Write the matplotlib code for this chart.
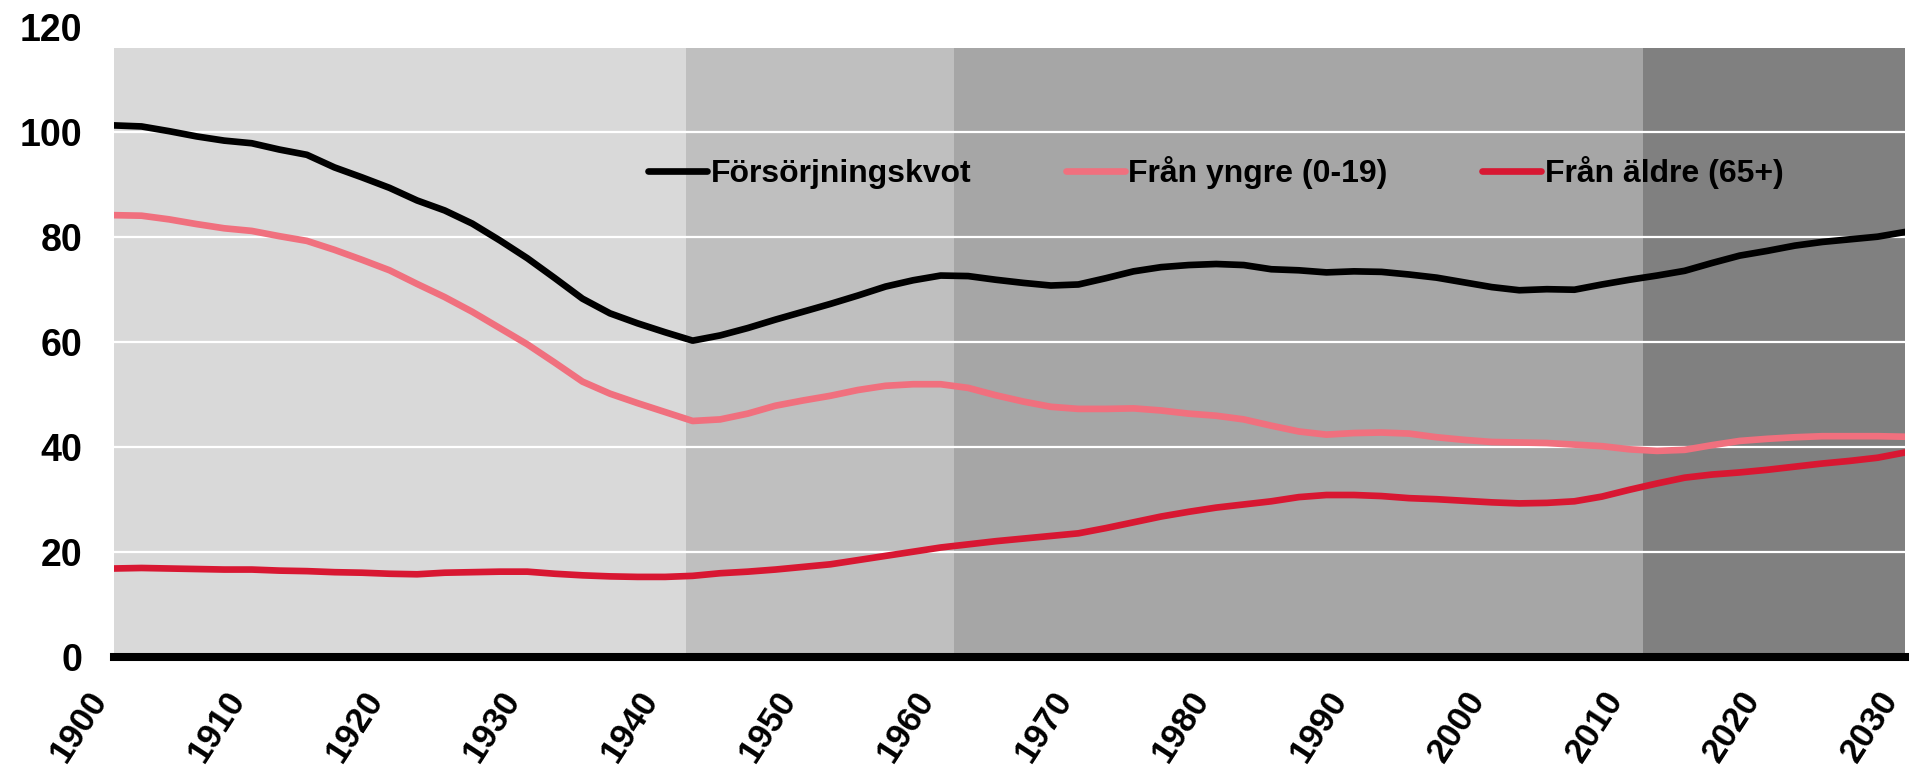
import matplotlib
matplotlib.use("Agg")
import matplotlib.pyplot as plt
import matplotlib.transforms as mtransforms

# ---------------- data ----------------
years = [1900, 1902, 1904, 1906, 1908, 1910, 1912, 1914, 1916, 1918,
         1920, 1922, 1924, 1926, 1928, 1930, 1932, 1934, 1936, 1938,
         1940, 1942, 1944, 1946, 1948, 1950, 1952, 1954, 1956, 1958,
         1960, 1962, 1964, 1966, 1968, 1970, 1972, 1974, 1976, 1978,
         1980, 1982, 1984, 1986, 1988, 1990, 1992, 1994, 1996, 1998,
         2000, 2002, 2004, 2006, 2008, 2010, 2012, 2014, 2016, 2018,
         2020, 2022, 2024, 2026, 2028, 2030]

forsorjningskvot = [101.2, 101.0, 100.1, 99.1, 98.3, 97.8, 96.6, 95.6, 93.2, 91.3,
                    89.3, 86.9, 85.0, 82.5, 79.3, 75.9, 72.1, 68.2, 65.4, 63.5,
                    61.8, 60.2, 61.2, 62.6, 64.2, 65.7, 67.2, 68.8, 70.5, 71.7,
                    72.6, 72.5, 71.8, 71.2, 70.7, 70.9, 72.1, 73.4, 74.2, 74.6,
                    74.8, 74.6, 73.8, 73.6, 73.2, 73.4, 73.3, 72.8, 72.2, 71.3,
                    70.4, 69.8, 70.0, 69.9, 70.9, 71.8, 72.6, 73.5, 75.0, 76.4,
                    77.3, 78.3, 79.0, 79.5, 80.0, 80.9]

fran_yngre = [84.1, 84.0, 83.3, 82.4, 81.6, 81.1, 80.1, 79.2, 77.5, 75.6,
              73.6, 71.0, 68.5, 65.7, 62.6, 59.5, 56.0, 52.4, 50.1, 48.3,
              46.6, 44.9, 45.2, 46.3, 47.8, 48.8, 49.7, 50.8, 51.6, 51.9,
              51.9, 51.2, 49.8, 48.6, 47.6, 47.2, 47.2, 47.3, 46.9, 46.3,
              45.9, 45.2, 44.0, 42.9, 42.3, 42.6, 42.7, 42.5, 41.8, 41.3,
              40.9, 40.8, 40.7, 40.4, 40.1, 39.5, 39.2, 39.4, 40.3, 41.1,
              41.5, 41.8, 42.0, 42.0, 42.0, 41.9]

fran_aldre = [16.8, 16.9, 16.8, 16.7, 16.6, 16.6, 16.4, 16.3, 16.1, 16.0,
              15.8, 15.7, 16.0, 16.1, 16.2, 16.2, 15.8, 15.5, 15.3, 15.2,
              15.2, 15.4, 15.9, 16.2, 16.6, 17.1, 17.6, 18.4, 19.2, 20.0,
              20.8, 21.4, 22.0, 22.5, 23.0, 23.5, 24.5, 25.6, 26.7, 27.6,
              28.4, 29.0, 29.6, 30.4, 30.8, 30.8, 30.6, 30.2, 30.0, 29.7,
              29.4, 29.2, 29.3, 29.6, 30.5, 31.8, 33.0, 34.1, 34.7, 35.1,
              35.6, 36.2, 36.8, 37.3, 37.9, 38.9]

series_labels = ["Försörjningskvot", "Från yngre (0-19)", "Från äldre (65+)"]
series_colors = ["#000000", "#F0707E", "#D81732"]

period_edges = [1900, 1941.5, 1961, 2011, 2030]
period_colors = ["#D9D9D9", "#BFBFBF", "#A6A6A6", "#808080"]
shade_top = 116

y_ticks = [0, 20, 40, 60, 80, 100, 120]
x_ticks = list(range(1900, 2031, 10))

# ---------------- style ----------------
plt.rcParams["font.family"] = ["Liberation Sans", "DejaVu Sans"]
plt.rcParams["font.weight"] = "bold"

fig = plt.figure(figsize=(19.16, 7.67), dpi=100)
ax = fig.add_axes([0.0595, 0.1438, 0.9348, 0.8214])

# background periods
for i, c in enumerate(period_colors):
    ax.fill_between([period_edges[i], period_edges[i + 1]], 0, shade_top,
                    color=c, lw=0, antialiased=False, zorder=0)

# gridlines
for v in y_ticks[1:-1]:
    ax.axhline(v, color="white", lw=1.6, zorder=1)

# lines
for vals, lab, col in zip([forsorjningskvot, fran_yngre, fran_aldre],
                          series_labels, series_colors):
    ax.plot(years, vals, color=col, lw=4.8, label=lab,
            solid_capstyle="round", solid_joinstyle="round", zorder=3)

ax.set_xlim(1900, 2030)
ax.set_ylim(0, 120)

for s in ["left", "top", "right"]:
    ax.spines[s].set_visible(False)
ax.spines["bottom"].set_linewidth(5.8)
ax.spines["bottom"].set_color("black")
ax.spines["bottom"].set_zorder(4)

ax.set_yticks(y_ticks)
ax.set_yticklabels([str(v) for v in y_ticks])
ax.tick_params(axis="y", length=0, pad=23, labelsize=27)

ax.set_xticks(x_ticks)
ax.set_xticklabels([str(t) for t in x_ticks], rotation=57,
                   ha="right", va="center", rotation_mode="anchor")
ax.tick_params(axis="x", length=0, pad=27, labelsize=25)
offset = mtransforms.ScaledTranslation(-0.14, 0, fig.dpi_scale_trans)
for lab in ax.get_xticklabels():
    lab.set_transform(lab.get_transform() + offset)

ax.legend(loc="center left", bbox_to_anchor=(0.298, 0.768), ncol=3,
          frameon=False, prop={"weight": "bold", "size": 23},
          handlelength=1.85, handletextpad=0.12, columnspacing=2.95,
          borderpad=0, borderaxespad=0)

fig.savefig("out.png", dpi=100)
